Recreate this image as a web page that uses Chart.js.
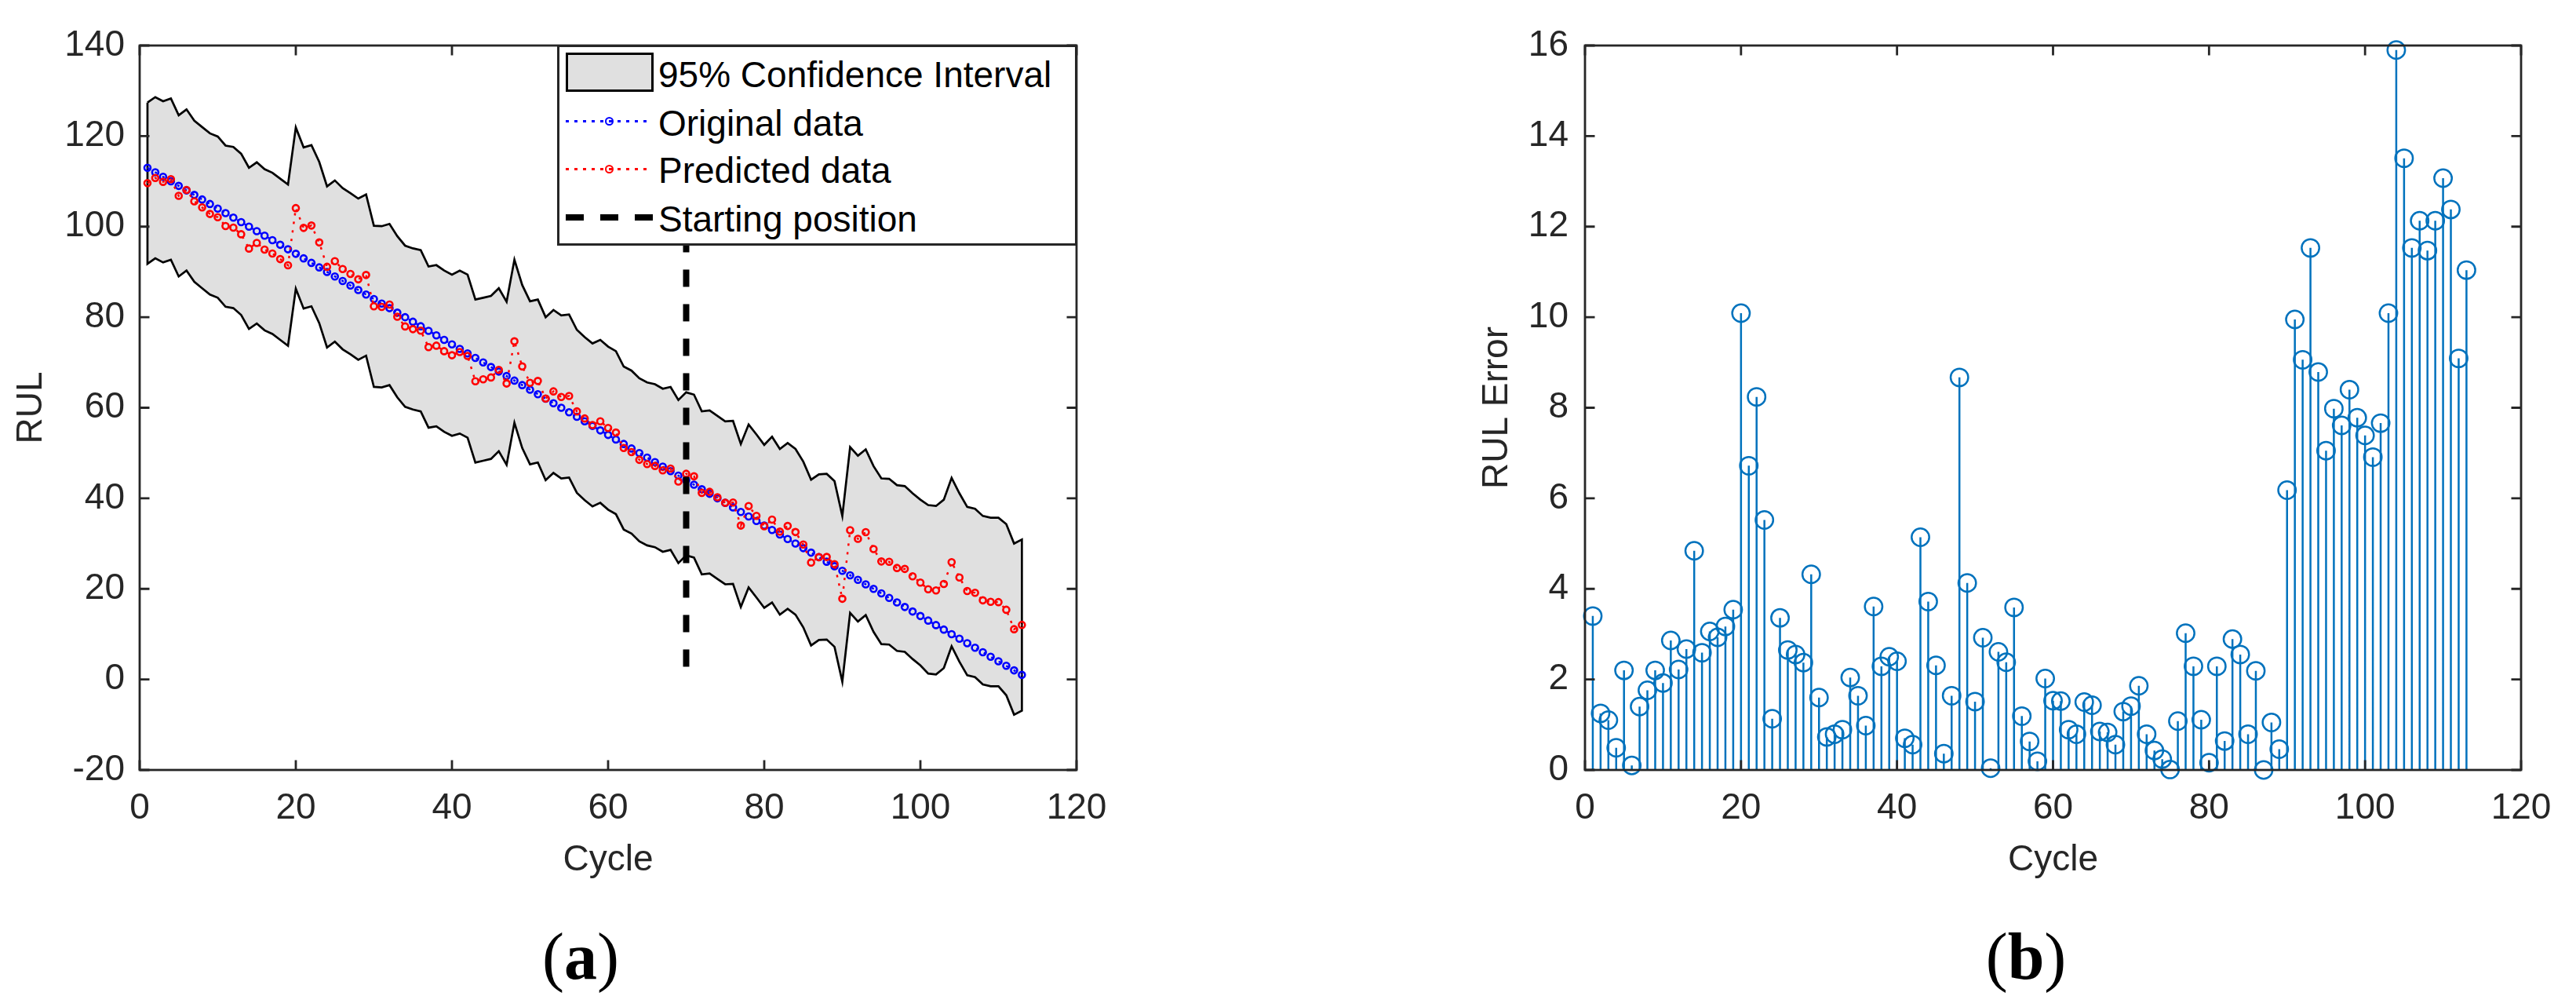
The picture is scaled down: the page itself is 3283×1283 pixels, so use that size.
<!DOCTYPE html>
<html><head><meta charset="utf-8">
<script src="https://cdn.jsdelivr.net/npm/chart.js@4"></script>
<style>
html,body{margin:0;padding:0;background:#fff;}
#wrap{position:relative;width:3283px;height:1283px;overflow:hidden;background:#fff;}
canvas{position:absolute;top:0;}
.abs{position:absolute;box-sizing:border-box;}
.lt{position:absolute;font-family:'Liberation Sans',Arial,sans-serif;font-size:46px;line-height:46px;color:#000;white-space:nowrap;}
.cap{position:absolute;font-family:'Liberation Serif','Times New Roman',serif;font-size:84px;line-height:84px;color:#000;white-space:nowrap;transform:translateX(-50%);}
</style></head>
<body><div id="wrap">
<canvas id="c1" width="1640" height="1283" style="left:0"></canvas>
<canvas id="c2" width="1643" height="1283" style="left:1640px"></canvas>

<div class="abs" style="left:710px;top:57px;width:663px;height:256px;border:3px solid #262626;background:#fff;"></div>
<div class="abs" style="left:721px;top:67px;width:112px;height:50px;border:3px solid #000;background:#e0e0e0;"></div>
<div class="lt" style="left:839px;top:72px;">95% Confidence Interval</div>
<div class="abs" style="left:721px;top:152.5px;width:104px;height:3px;background:repeating-linear-gradient(to right,#0000ff 0 4px,transparent 4px 11px);"></div>
<div class="abs" style="left:771px;top:148.5px;width:11px;height:11px;border:2.8px solid #0000ff;border-radius:50%;"></div>
<div class="lt" style="left:839px;top:134px;">Original data</div>
<div class="abs" style="left:721px;top:213.5px;width:104px;height:3px;background:repeating-linear-gradient(to right,#ff0000 0 4px,transparent 4px 11px);"></div>
<div class="abs" style="left:771px;top:209.5px;width:11px;height:11px;border:2.8px solid #ff0000;border-radius:50%;"></div>
<div class="lt" style="left:839px;top:194px;">Predicted data</div>
<div class="abs" style="left:721px;top:273px;width:112px;height:8px;background:repeating-linear-gradient(to right,#000 0 23px,transparent 23px 44px);"></div>
<div class="lt" style="left:839px;top:256px;">Starting position</div>

<div class="cap" style="left:740px;top:1177px;">(<b>a</b>)</div>
<div class="cap" style="left:2582px;top:1177px;">(<b>b</b>)</div>
</div>
<script>
// ---------- data ----------
const cycles = [1,2,3,4,5,6,7,8,9,10,11,12,13,14,15,16,17,18,19,20,21,22,23,24,25,26,27,28,29,30,31,32,33,34,35,36,37,38,39,40,41,42,43,44,45,46,47,48,49,50,51,52,53,54,55,56,57,58,59,60,61,62,63,64,65,66,67,68,69,70,71,72,73,74,75,76,77,78,79,80,81,82,83,84,85,86,87,88,89,90,91,92,93,94,95,96,97,98,99,100,101,102,103,104,105,106,107,108,109,110,111,112,113];

const originalRUL = [113,112,111,110,109,108,107,106,105,104,103,102,101,100,99,98,97,96,95,94,93,92,91,90,89,88,87,86,85,84,83,82,81,80,79,78,77,76,75,74,73,72,71,70,69,68,67,66,65,64,63,62,61,60,59,58,57,56,55,54,53,52,51,50,49,48,47,46,45,44,43,42,41,40,39,38,37,36,35,34,33,32,31,30,29,28,27,26,25,24,23,22,21,20,19,18,17,16,15,14,13,12,11,10,9,8,7,6,5,4,3,2,1];

const predictedRUL = [109.60,110.75,109.90,110.49,106.80,108.10,105.60,104.24,102.80,102.08,
100.14,99.78,98.33,95.16,96.41,94.94,94.07,92.83,91.46,104.09,
99.72,100.24,96.52,91.13,92.36,90.65,89.55,88.37,89.32,82.40,
82.27,82.79,80.11,77.96,77.36,77.02,73.39,73.71,72.50,71.60,
72.30,71.44,65.86,66.28,66.69,68.36,65.36,74.67,69.13,65.51,
65.92,62.04,63.61,62.38,62.59,59.19,57.63,56.19,57.02,55.53,
54.52,51.11,50.21,48.50,47.57,47.15,46.17,46.56,43.71,45.41,
44.86,41.21,41.43,40.24,39.01,39.08,33.98,38.29,36.11,33.84,
35.29,32.64,33.89,32.55,29.79,25.81,27.00,27.05,25.46,17.82,
32.95,31.06,32.53,28.79,26.05,25.98,24.61,24.40,22.78,21.39,
19.91,19.66,21.09,25.90,22.51,19.53,19.13,17.47,17.13,17.07,
15.38,11.09,12.04];

const upperCI = [127.4,128.6,127.7,128.3,124.6,125.9,123.4,122.0,120.6,119.9,
117.9,117.6,116.1,113.0,114.2,112.7,111.9,110.6,109.3,121.9,
117.5,118.0,114.3,108.9,110.2,108.5,107.4,106.2,107.1,100.2,
100.1,100.6,97.9,95.8,95.2,94.8,91.2,91.5,90.3,89.4,
90.3,89.4,83.9,84.3,84.7,86.4,83.4,92.7,87.1,83.5,
83.9,80.0,81.6,80.4,80.6,77.2,75.6,74.2,75.0,73.5,
72.5,69.1,68.2,66.5,65.6,65.2,64.2,64.6,61.7,63.4,
62.9,59.2,59.4,58.2,57.0,57.1,52.0,56.3,54.1,51.8,
53.6,50.9,52.2,50.9,48.1,44.1,45.3,45.4,43.8,36.1,
51.3,49.4,50.8,47.1,44.4,44.3,42.9,42.7,41.1,39.7,
38.5,38.3,39.7,44.5,41.1,38.1,37.7,36.1,35.7,35.7,
34.3,30.0,30.9];

const lowerCI = [91.8,93.0,92.1,92.7,89.0,90.3,87.8,86.4,85.0,84.3,
82.3,82.0,80.5,77.4,78.6,77.1,76.3,75.0,73.7,86.3,
81.9,82.4,78.7,73.3,74.6,72.9,71.8,70.6,71.5,64.6,
64.5,65.0,62.3,60.2,59.6,59.2,55.6,55.9,54.7,53.8,
54.3,53.4,47.9,48.3,48.7,50.4,47.4,56.7,51.1,47.5,
47.9,44.0,45.6,44.4,44.6,41.2,39.6,38.2,39.0,37.5,
36.5,33.1,32.2,30.5,29.6,29.2,28.2,28.6,25.7,27.4,
26.9,23.2,23.4,22.2,21.0,21.1,16.0,20.3,18.1,15.8,
17.0,14.3,15.6,14.3,11.5,7.5,8.7,8.8,7.2,-0.5,
14.7,12.8,14.2,10.5,7.8,7.7,6.3,6.1,4.5,3.1,
1.3,1.1,2.5,7.3,3.9,0.9,0.5,-1.1,-1.5,-1.5,
-3.5,-7.8,-6.9];

const rulError = [3.40,1.25,1.10,0.49,2.20,0.10,1.40,1.76,2.20,1.92,
2.86,2.22,2.67,4.84,2.59,3.06,2.93,3.17,3.54,10.09,
6.72,8.24,5.52,1.13,3.36,2.65,2.55,2.37,4.32,1.60,
0.73,0.79,0.89,2.04,1.64,0.98,3.61,2.29,2.50,2.40,
0.70,0.56,5.14,3.72,2.31,0.36,1.64,8.67,4.13,1.51,
2.92,0.04,2.61,2.38,3.59,1.19,0.63,0.19,2.02,1.53,
1.52,0.89,0.79,1.50,1.43,0.85,0.83,0.56,1.29,1.41,
1.86,0.79,0.43,0.24,0.01,1.08,3.02,2.29,1.11,0.16,
2.29,0.64,2.89,2.55,0.79,2.19,0.00,1.05,0.46,6.18,
9.95,9.06,11.53,8.79,7.05,7.98,7.61,8.40,7.78,7.39,
6.91,7.66,10.09,15.90,13.51,11.53,12.13,11.47,12.13,13.07,
12.38,9.09,11.04];

const startCycle = 70;
const startLineY = [2.8, 140];

const xTicksA = {min:0, max:120, step:20};
const yTicksA = {min:-20, max:140, step:20};
const xTicksB = {min:0, max:120, step:20};
const yTicksB = {min:0, max:16, step:2};

// ---------- built from arrays ----------
const origPts = cycles.map((c,i)=>({x:c, y:originalRUL[i]}));
const predPts = cycles.map((c,i)=>({x:c, y:predictedRUL[i]}));
const bandPts = cycles.map((c,i)=>({x:c, y:upperCI[i]}))
  .concat(cycles.slice().reverse().map((c,j)=>({x:c, y:lowerCI[cycles.length-1-j]})))
  .concat([{x:cycles[0], y:upperCI[0]}]);
const startPts = startLineY.map(v=>({x:startCycle, y:v}));
const errPts = cycles.map((c,i)=>({x:c, y:rulError[i]}));
const stemPts = [];
cycles.forEach((c,i)=>{ stemPts.push({x:c,y:0},{x:c,y:rulError[i]},{x:c,y:null}); });

// ---------- styling ----------
const FONT = "'Liberation Sans', Arial, sans-serif";
const AX = '#262626';
const tickFont = {family:FONT, size:46, lineHeight:1.2};

const frameTicks = {
  id:'frameTicks',
  afterDatasetsDraw(chart){
    const {ctx, chartArea:a, scales:{x,y}} = chart;
    ctx.save();
    ctx.strokeStyle = AX; ctx.lineWidth = 2.8; ctx.lineCap='butt';
    const L = 12.5;
    ctx.beginPath();
    x.ticks.forEach(t=>{ const p=x.getPixelForValue(t.value);
      ctx.moveTo(p,a.bottom); ctx.lineTo(p,a.bottom-L);
      ctx.moveTo(p,a.top); ctx.lineTo(p,a.top+L); });
    y.ticks.forEach(t=>{ const p=y.getPixelForValue(t.value);
      ctx.moveTo(a.left,p); ctx.lineTo(a.left+L,p);
      ctx.moveTo(a.right,p); ctx.lineTo(a.right-L,p); });
    ctx.stroke();
    ctx.strokeRect(a.left, a.top, a.right-a.left, a.bottom-a.top);
    ctx.restore();
  }
};

function axes(xt, yt, yTitle, yTitlePad, yWidth, yLabPad){
  return {
    x:{type:'linear', min:xt.min, max:xt.max,
       ticks:{stepSize:xt.step, padding:22, color:AX, font:tickFont, maxRotation:0},
       grid:{display:false, drawTicks:false}, border:{display:false},
       title:{display:true, text:'Cycle', color:AX, font:tickFont, padding:{top:0,bottom:7}},
       afterFit(s){ s.height = 150; }},
    y:{type:'linear', min:yt.min, max:yt.max,
       ticks:{stepSize:yt.step, padding:yLabPad, color:AX, font:tickFont},
       grid:{display:false, drawTicks:false}, border:{display:false},
       title:{display:true, text:yTitle, color:AX, font:tickFont, padding:{top:yTitlePad,bottom:0}},
       afterFit(s){ s.width = yWidth; }}
  };
}

new Chart(document.getElementById('c1'), {
  type:'line',
  data:{datasets:[
    {label:'Starting position', data:startPts, borderColor:'#000', borderWidth:8, borderDash:[22,22],
     pointRadius:0, fill:false, order:0},
    {label:'Predicted data', data:predPts, borderColor:'#ff0000', borderWidth:2.5, borderDash:[3,8],
     pointRadius:4, pointBorderWidth:2.6, pointBorderColor:'#ff0000', pointBackgroundColor:'rgba(0,0,0,0)',
     fill:false, order:1},
    {label:'Original data', data:origPts, borderColor:'#0000ff', borderWidth:2.5, borderDash:[3,8],
     pointRadius:4, pointBorderWidth:2.6, pointBorderColor:'#0000ff', pointBackgroundColor:'rgba(0,0,0,0)',
     fill:false, order:2},
    {label:'95% Confidence Interval', data:bandPts, borderColor:'#000', borderWidth:2.7,
     backgroundColor:'#e0e0e0', fill:'shape', pointRadius:0, order:3}
  ]},
  options:{
    responsive:false, animation:false, devicePixelRatio:1,
    layout:{padding:{left:0, top:58, right:268, bottom:152}},
    plugins:{legend:{display:false}, tooltip:{enabled:false}},
    scales:axes(xTicksA, yTicksA, 'RUL', 13, 178, 19)
  },
  plugins:[frameTicks]
});

new Chart(document.getElementById('c2'), {
  type:'line',
  data:{datasets:[
    {label:'RUL Error', data:errPts, showLine:false, pointRadius:11.2, pointBorderWidth:2.5,
     pointBorderColor:'#0072BD', pointBackgroundColor:'rgba(0,0,0,0)', clip:false, order:0},
    {label:'stems', data:stemPts, borderColor:'#0072BD', borderWidth:2.5, pointRadius:0,
     spanGaps:false, fill:false, order:1}
  ]},
  options:{
    responsive:false, animation:false, devicePixelRatio:1,
    layout:{padding:{left:200, top:58, right:70, bottom:152}},
    plugins:{legend:{display:false}, tooltip:{enabled:false}},
    scales:axes(xTicksB, yTicksB, 'RUL Error', 41, 180, 21)
  },
  plugins:[frameTicks]
});
</script>
</body></html>
